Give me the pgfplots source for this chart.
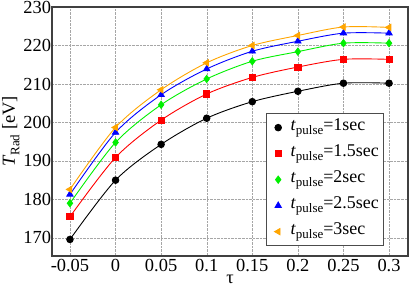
\documentclass[border=0pt]{standalone}
\usepackage{pgfplots}
\pgfplotsset{compat=1.18}
\usepackage{fontspec}
\setmainfont{Liberation Serif}
\definecolor{myorange}{RGB}{255,165,0}
\definecolor{mygreen}{RGB}{0,240,0}
\newcommand{\tp}{\textit{t}\raisebox{-4.5bp}{\fontsize{13}{13}\selectfont pulse}}
\begin{document}
\begin{tikzpicture}
\begin{axis}[
  name=ax,
  scale only axis,
  width=356bp, height=249bp,
  xmin=-0.0697, xmax=0.3208,
  ymin=165.3, ymax=230,
  xtick={-0.05,0,0.05,0.1,0.15,0.2,0.25,0.3},
  xticklabels={-0.05,0,0.05,0.1,0.15,0.2,0.25,0.3},
  ytick={170,180,190,200,210,220,230},
  /pgf/number format/assume math mode=true,
  tick label style={font=\fontsize{18.5}{20}\selectfont},
  yticklabel style={inner sep=0.8bp},
  xticklabel style={inner sep=3bp},
  label style={font=\fontsize{18.5}{20}\selectfont},
  xlabel={τ},
  ylabel={\textit{T}\raisebox{-4.5bp}{\fontsize{13}{13}\selectfont Rad} [eV]},
  xlabel style={at={(axis description cs:0.5,0)}, anchor=base, yshift=-27.5bp},
  ylabel style={at={(axis description cs:-0.104,0.5)}, anchor=base},
  grid=major,
  grid style={densely dotted, gray!70},
  axis line style={draw=black!75, line width=1.5bp},
  major tick length=0pt,
  legend style={font=\fontsize{18}{20}\selectfont, at={(0.933,0.04)}, anchor=south east, draw=black!70, line width=0.8pt, row sep=0pt, inner xsep=3bp, inner ysep=1bp,
    nodes={text height=13bp, text depth=8bp, inner ysep=2.5bp}},
  legend cell align=left,
  legend image code/.code={\draw[#1] plot[only marks] coordinates {(8bp,0bp)}; \path (0bp,0bp) (18bp,0bp);},
  every axis plot/.append style={line width=0.9pt},
]
\addplot[black, smooth, mark=*, mark size=3.3pt] coordinates {(-0.05,169.6) (0,185.0) (0.05,194.3) (0.1,201.1) (0.15,205.4) (0.2,208.1) (0.25,210.2) (0.3,210.2)};
\addplot[red, smooth, mark=square*, mark size=3.1pt] coordinates {(-0.05,175.5) (0,190.9) (0.05,200.6) (0.1,207.4) (0.15,211.7) (0.2,214.4) (0.25,216.4) (0.3,216.4)};
\addplot[mygreen, smooth, mark=diamond*, mark size=3.6pt] coordinates {(-0.05,179.0) (0,194.8) (0.05,204.6) (0.1,211.3) (0.15,215.9) (0.2,218.4) (0.25,220.6) (0.3,220.6)};
\addplot[blue, smooth, mark=triangle*, mark size=3.6pt] coordinates {(-0.05,181.3) (0,197.4) (0.05,207.2) (0.1,213.9) (0.15,218.5) (0.2,221.1) (0.25,223.2) (0.3,223.2)};
\addplot[myorange, smooth, mark=triangle*, mark size=3.6pt, mark options={rotate=90}] coordinates {(-0.05,182.6) (0,198.7) (0.05,208.5) (0.1,215.5) (0.15,220.0) (0.2,222.6) (0.25,224.8) (0.3,224.7)};
\legend{\tp=1sec, \tp=1.5sec, \tp=2sec, \tp=2.5sec, \tp=3sec}
\end{axis}
\pgfresetboundingbox
\path ([xshift=-52bp,yshift=-30bp]ax.south west) rectangle ([xshift=1bp,yshift=7bp]ax.north east);
\end{tikzpicture}
\end{document}
